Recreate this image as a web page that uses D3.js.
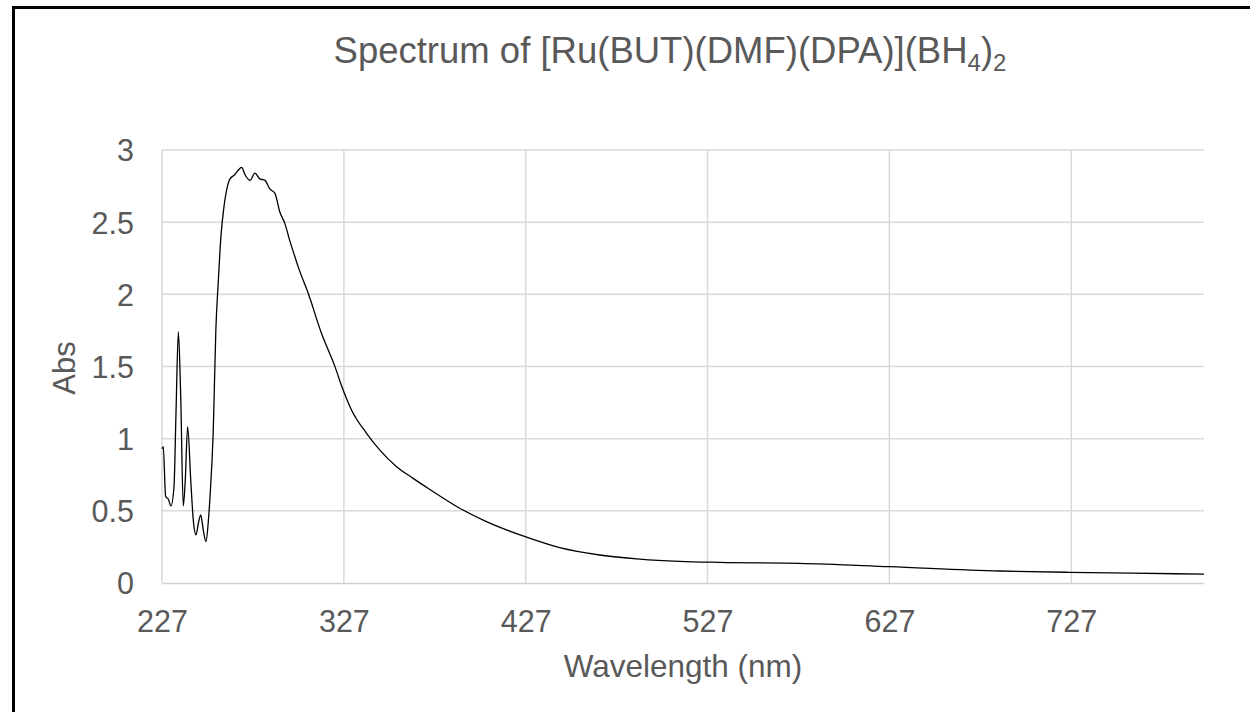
<!DOCTYPE html>
<html>
<head>
<meta charset="utf-8">
<script src="https://cdn.jsdelivr.net/npm/d3@7"></script>
<style>
  html, body { margin: 0; padding: 0; background: #fff; }
  svg { display: block; }
  text { font-family: "Liberation Sans", Arial, sans-serif; fill: #595959; }
</style>
</head>
<body>
<svg id="chart" width="1250" height="712"></svg>
<script>
// Wavelength (nm)
const wavelength = [227.0, 227.7, 229.0, 230.5, 231.9, 233.6, 234.7, 236.0, 237.3, 238.7,
  239.8, 241.1, 242.8, 244.2, 245.7, 247.0, 248.3, 249.7, 251.2, 252.4,
  253.4, 255.2, 256.6, 258.0, 259.4, 261.0, 262.5, 264.4, 267.1, 268.9,
  270.8, 272.6, 275.4, 278.1, 280.8, 283.6, 286.3, 289.1, 291.8, 294.6,
  297.3, 300.1, 301.9, 307.4, 314.7, 322.1, 326.6, 331.2, 339.5, 346.8,
  356.0, 365.1, 373.3, 390.7, 405.4, 425.5, 445.7, 467.7, 489.6, 511.6,
  533.6, 577.5, 627.0, 687.4, 725.9, 760.0, 800.0];
// Absorbance
const absorbance = [0.93, 0.945, 0.60, 0.58, 0.534, 0.667, 1.18, 1.741, 1.29, 0.534,
  0.714, 1.083, 0.714, 0.437, 0.333, 0.414, 0.471, 0.367, 0.286, 0.414,
  0.598, 1.06, 1.75, 2.10, 2.40, 2.60, 2.72, 2.80, 2.83, 2.86,
  2.88, 2.83, 2.79, 2.84, 2.80, 2.79, 2.73, 2.70, 2.57, 2.49,
  2.37, 2.26, 2.19, 2.007, 1.73, 1.499, 1.337, 1.199, 1.037, 0.921,
  0.806, 0.725, 0.656, 0.518, 0.425, 0.326, 0.245, 0.194, 0.166, 0.150,
  0.143, 0.136, 0.113, 0.083, 0.074, 0.068, 0.062];
const xTicks = [227, 327, 427, 527, 627, 727];
const yTicks = [0, 0.5, 1, 1.5, 2, 2.5, 3];
const xDomain = [227, 800];
const yDomain = [0, 3];

const data = wavelength.map((w, i) => ({ x: w, y: absorbance[i] }));

const svg = d3.select("#chart");
const plot = { left: 162, right: 1204, top: 150, bottom: 583 };

const x = d3.scaleLinear().domain(xDomain).range([plot.left, plot.right]);
const y = d3.scaleLinear().domain(yDomain).range([plot.bottom, plot.top]);

svg.append("rect").attr("width", 1250).attr("height", 712).attr("fill", "#fff");

// Outer border (left + top)
svg.append("line").attr("x1", 13.5).attr("x2", 13.5).attr("y1", 6).attr("y2", 712)
  .attr("stroke", "#000").attr("stroke-width", 3);
svg.append("line").attr("x1", 12).attr("x2", 1250).attr("y1", 7.5).attr("y2", 7.5)
  .attr("stroke", "#000").attr("stroke-width", 3);

// Gridlines
const grid = svg.append("g");
grid.selectAll(".hg").data(yTicks.filter(d => d !== 0)).join("line")
  .attr("x1", plot.left).attr("x2", plot.right)
  .attr("y1", d => y(d)).attr("y2", d => y(d))
  .attr("stroke", "#d9d9d9").attr("stroke-width", 1.5);
grid.selectAll(".vg").data(xTicks).join("line")
  .attr("x1", d => x(d)).attr("x2", d => x(d))
  .attr("y1", plot.top).attr("y2", plot.bottom)
  .attr("stroke", "#d9d9d9").attr("stroke-width", 1.5);

// Axes via d3
const xAxis = svg.append("g").attr("transform", `translate(0,${plot.bottom})`)
  .call(d3.axisBottom(x).tickValues(xTicks).tickSize(0).tickPadding(0).tickFormat(d3.format("d")));
xAxis.select(".domain").attr("stroke", "#d0d0d0").attr("stroke-width", 1.5);
xAxis.selectAll("text").attr("font-size", 30.5).attr("fill", "#595959")
  .attr("dy", null).attr("y", 48.5).style("font-family", "Liberation Sans, Arial, sans-serif");

const yAxis = svg.append("g").attr("transform", `translate(${plot.left},0)`)
  .call(d3.axisLeft(y).tickValues(yTicks).tickSize(0).tickPadding(0).tickFormat(d => d));
yAxis.select(".domain").remove();
yAxis.selectAll("text").attr("font-size", 30.5).attr("fill", "#595959")
  .attr("x", -28).attr("dy", "0.36em").style("font-family", "Liberation Sans, Arial, sans-serif");

// Data line
const line = d3.line().x(d => x(d.x)).y(d => y(d.y)).curve(d3.curveMonotoneX);
svg.append("path").datum(data).attr("d", line)
  .attr("fill", "none").attr("stroke", "#000").attr("stroke-width", 1.3)
  .attr("stroke-linejoin", "round");

// Title
const title = svg.append("text").attr("x", 670).attr("y", 63)
  .attr("text-anchor", "middle").attr("font-size", 36.5);
title.append("tspan").text("Spectrum of [Ru(BUT)(DMF)(DPA)](BH");
title.append("tspan").attr("font-size", 24).attr("dy", 8).text("4");
title.append("tspan").attr("dy", -8).text(")");
title.append("tspan").attr("font-size", 24).attr("dy", 8).text("2");

// Axis titles
svg.append("text").attr("x", (plot.left + plot.right) / 2).attr("y", 677)
  .attr("text-anchor", "middle").attr("font-size", 31.5).text("Wavelength (nm)");
svg.append("text").attr("transform", "translate(75,368) rotate(-90)")
  .attr("text-anchor", "middle").attr("font-size", 31).text("Abs");
</script>
</body>
</html>
